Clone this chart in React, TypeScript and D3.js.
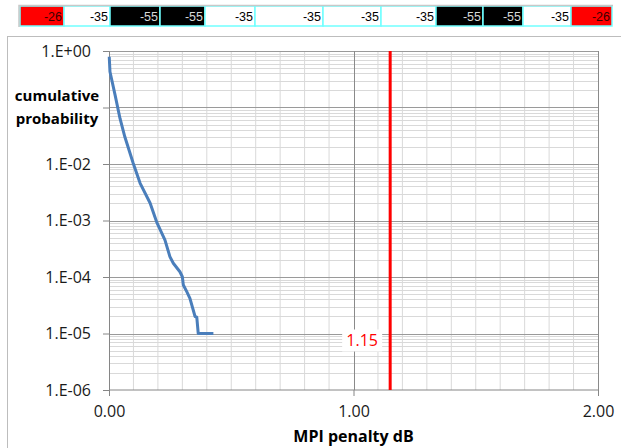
import React, { useEffect, useRef } from 'react'
import * as d3 from 'd3'

// top strip values
const stripValues = [-26, -35, -55, -55, -35, -35, -35, -35, -55, -55, -35, -26]
// cell edges of the strip (layout, px)
const stripEdges = [20, 64, 110, 160, 205, 255, 323, 381, 436, 483, 523, 571, 612]

// cumulative probability curve
const penaltyDb = [0.001, 0.004, 0.025, 0.045, 0.065, 0.099, 0.127, 0.168, 0.195, 0.229, 0.249,
  0.263, 0.29, 0.3, 0.304, 0.318, 0.331, 0.352, 0.359, 0.365, 0.427]
const cumProb = [0.79, 0.43, 0.166, 0.064, 0.03, 0.0103, 0.0046, 0.00204, 0.00094, 0.00045, 0.00023,
  0.000175, 0.000124, 0.000101, 0.000072, 0.000055, 0.000042, 0.00002, 0.0000195, 0.00001, 0.00001]

const yTicks = [1, 1e-1, 1e-2, 1e-3, 1e-4, 1e-5, 1e-6]
const yTickLabels = ['1.E+00', '', '1.E-02', '1.E-03', '1.E-04', '1.E-05', '1.E-06']
const xTicks = [0, 1, 2]
const xTickLabels = ['0.00', '1.00', '2.00']
const threshold = 1.15

const font = "'Open Sans', sans-serif"

export default function App() {
  const ref = useRef<SVGSVGElement>(null)

  useEffect(() => {
    if (!ref.current) return
    const svg = d3.select(ref.current)
    svg.selectAll('*').remove()

    // top strip
    const strip = svg.append('g')
    const cellFill = (v: number) => (v === -26 ? '#ff0000' : v === -55 ? '#000000' : '#ffffff')
    const cellText = (v: number) => (v === -26 ? '#3a0000' : v === -55 ? '#d8d8d8' : '#000000')
    strip.selectAll('rect')
      .data(stripValues)
      .join('rect')
        .attr('x', (d, i) => stripEdges[i])
        .attr('y', 6)
        .attr('width', (d, i) => stripEdges[i + 1] - stripEdges[i])
        .attr('height', 20)
        .attr('fill', d => cellFill(d))
        .attr('stroke', '#70ffff')
        .attr('stroke-width', 1.5)
    strip.selectAll('text')
      .data(stripValues)
      .join('text')
        .text(d => d)
        .attr('x', (d, i) => stripEdges[i + 1] - 2)
        .attr('y', 21)
        .attr('text-anchor', 'end')
        .attr('font-family', "'Liberation Sans', Arial, sans-serif")
        .attr('font-size', 12.5)
        .attr('fill', d => cellText(d))
    strip.append('path')
      .attr('d', `M${stripEdges[0] - 1},27V5.5H${stripEdges[stripEdges.length - 1] + 1}`)
      .attr('fill', 'none')
      .attr('stroke', '#c8c8c8')
      .attr('stroke-width', 1.5)

    // chart frame
    svg.append('rect')
      .attr('x', 7.5).attr('y', 36.5)
      .attr('width', 640).attr('height', 440)
      .attr('fill', '#fff')
      .attr('stroke', '#bdbdbd')

    const margin = { left: 109, top: 51, right: 23, bottom: 58 }
    const width = 621 - margin.left - margin.right
    const height = 448 - margin.top - margin.bottom

    const x = d3.scaleLinear().domain([0, 2]).range([0, width])
    const y = d3.scaleLog().domain([1e-6, 1]).range([height, 0])

    const chart = svg.append('g')
      .attr('transform', `translate(${margin.left}, ${margin.top})`)

    // minor gridlines
    const xMinor = d3.range(1, 20).map(i => i / 10).filter(v => v !== 1)
    chart.append('g').selectAll('line')
      .data(xMinor)
      .join('line')
        .attr('x1', d => x(d)).attr('x2', d => x(d))
        .attr('y1', 0).attr('y2', height)
        .attr('stroke', '#d9d9d9')
    const yMinor: number[] = []
    for (let e = -6; e < 0; e++) for (let m = 2; m <= 9; m++) yMinor.push(m * Math.pow(10, e))
    chart.append('g').selectAll('line')
      .data(yMinor)
      .join('line')
        .attr('x1', 0).attr('x2', width)
        .attr('y1', d => Math.round(y(d)) + 0.5).attr('y2', d => Math.round(y(d)) + 0.5)
        .attr('stroke', '#d9d9d9')

    // major gridlines
    chart.append('g').selectAll('line')
      .data(yTicks.slice(0, -1))
      .join('line')
        .attr('x1', 0).attr('x2', width)
        .attr('y1', d => Math.round(y(d)) + 0.5).attr('y2', d => Math.round(y(d)) + 0.5)
        .attr('stroke', '#9a9a9a')
    chart.append('g').selectAll('line')
      .data(xTicks.slice(1))
      .join('line')
        .attr('x1', d => Math.round(x(d)) + 0.5).attr('x2', d => Math.round(x(d)) + 0.5)
        .attr('y1', 0).attr('y2', height)
        .attr('stroke', '#8a8a8a')

    // axes
    const yAxis = d3.axisLeft(y)
      .tickValues(yTicks)
      .tickFormat((d, i) => yTickLabels[i])
      .tickSize(6)
      .tickPadding(12)
    const yg = chart.append('g').call(yAxis)
    const xAxis = d3.axisBottom(x)
      .tickValues(xTicks)
      .tickFormat((d, i) => xTickLabels[i])
      .tickSize(6)
      .tickPadding(10)
    const xg = chart.append('g').attr('transform', `translate(0, ${height})`).call(xAxis)
    for (const g of [yg, xg]) {
      g.attr('font-family', font).attr('font-size', 16)
      g.select('.domain').attr('stroke', '#868686')
      g.selectAll('.tick line').attr('stroke', '#868686')
      g.selectAll('.tick text').attr('fill', '#1a1a1a')
    }
    xg.select('.domain').attr('d', `M0.5,0H${width}`)

    // curve
    const line = d3.line<number>()
      .x((d, i) => x(penaltyDb[i]))
      .y(d => y(d))
    chart.append('path')
      .datum(cumProb)
      .attr('d', line)
      .attr('fill', 'none')
      .attr('stroke', '#4a7ebb')
      .attr('stroke-width', 3)
      .attr('stroke-linejoin', 'round')

    // threshold line
    chart.append('line')
      .attr('x1', x(threshold)).attr('x2', x(threshold))
      .attr('y1', 0).attr('y2', height)
      .attr('stroke', '#ff0000')
      .attr('stroke-width', 3)
    const lbl = chart.append('g')
      .attr('transform', `translate(${x(threshold) - 28}, ${y(1e-5) + 7})`)
    lbl.append('rect')
      .attr('x', -20).attr('y', -11)
      .attr('width', 40).attr('height', 22)
      .attr('fill', '#fff')
    lbl.append('text')
      .text(threshold.toFixed(2))
      .attr('text-anchor', 'middle')
      .attr('dy', '0.35em')
      .attr('font-family', font)
      .attr('font-size', 16)
      .attr('fill', '#ff0000')

    // axis titles
    const yTitle = svg.append('text')
      .attr('text-anchor', 'middle')
      .attr('font-family', font)
      .attr('font-size', 15)
      .attr('font-weight', 'bold')
      .attr('fill', '#000')
    yTitle.append('tspan').attr('x', 57).attr('y', 101).text('cumulative')
    yTitle.append('tspan').attr('x', 57).attr('y', 124).text('probability')

    svg.append('text')
      .attr('x', margin.left + x(1))
      .attr('y', 442)
      .attr('text-anchor', 'middle')
      .attr('font-family', font)
      .attr('font-size', 16)
      .attr('font-weight', 'bold')
      .attr('fill', '#000')
      .text('MPI penalty dB')
  }, [])

  return (
    <svg
      ref={ref}
      width={621}
      height={448}
      style={{ position: 'absolute', left: 0, top: 0, background: '#fff' }}
    />
  )
}
